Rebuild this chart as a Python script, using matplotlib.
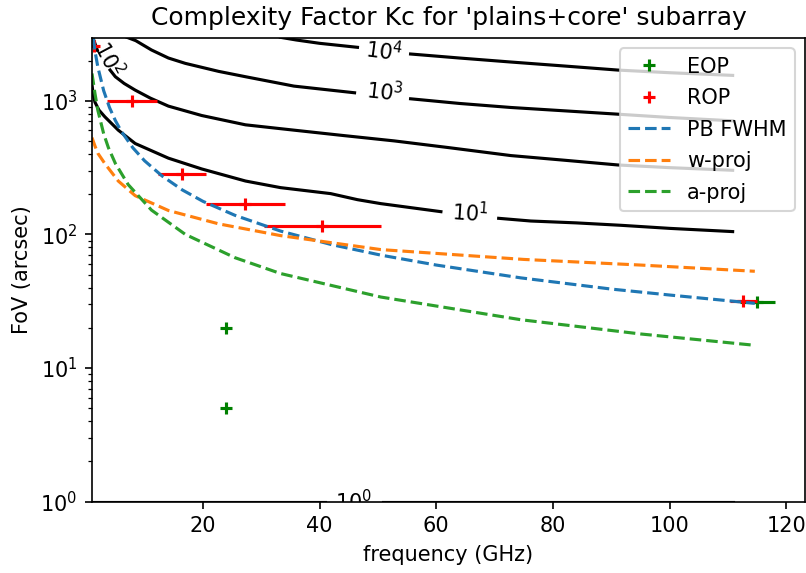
import numpy as np
import matplotlib
matplotlib.use("Agg")
import matplotlib.pyplot as plt

# ---------- Kc contour lines (freq GHz, FoV arcsec), split around the inline labels ----------
kc1_freq_a = [1.0, 41.0]
kc1_fov_a = [1.0, 1.0]
kc1_freq_b = [50.8, 110.8]
kc1_fov_b = [1.0, 1.0]

kc10_freq_a = [1.0, 1.2, 1.5, 2.2, 3.2, 5.5, 8.4, 14.1, 19.8, 27.3, 33.3, 41.9, 46.5, 50.5, 60.8]
kc10_fov_a = [1318, 1122, 977, 851, 759, 603, 479, 372, 309, 251, 224, 202, 182, 170, 148]
kc10_freq_b = [70.7, 76.2, 84.0, 91.7, 100.0, 110.8]
kc10_fov_b = [132, 126, 122, 117, 111, 105]

kc100_freq_a = [1.1, 1.9]
kc100_fov_a = [3020, 2399]
kc100_freq_b = [4.1, 5.0, 6.5, 8.4, 11.0, 14.1, 19.8, 27.3, 35.6, 44.0, 52.8, 62.0, 72.8, 82.0, 91.1, 100.0, 110.8]
kc100_fov_b = [1698, 1514, 1349, 1202, 1047, 912, 776, 661, 603, 550, 501, 447, 389, 359, 331, 316, 302]

kc1000_freq_a = [7.0, 8.5, 11.2, 14.1, 17.0, 22.7, 27.3, 35.6, 46.0]
kc1000_fov_a = [2985, 2818, 2399, 2089, 1905, 1660, 1514, 1288, 1148]
kc1000_freq_b = [55.6, 64.0, 72.8, 82.0, 91.1, 100.0, 110.8]
kc1000_fov_b = [1035, 955, 891, 841, 794, 750, 708]

kc10000_freq_a = [33.3, 36.0, 40.0, 46.5]
kc10000_fov_a = [2985, 2851, 2692, 2512]
kc10000_freq_b = [55.6, 64.0, 72.8, 82.0, 91.1, 100.0, 110.8]
kc10000_fov_b = [2239, 2089, 1950, 1820, 1698, 1622, 1549]

# label text, position (freq, FoV) and angle
kc_labels = [r'$10^{0}$', r'$10^{1}$', r'$10^{2}$', r'$10^{3}$', r'$10^{4}$']
kc_label_freq = [45.8, 65.8, 3.8, 51.1, 51.1]
kc_label_fov = [1.0, 145, 2061, 1159, 2335]
kc_label_rot = [0, -4, -62, -6.5, -7.5]

# ---------- observing programs ----------
eop_freq = [24.0, 24.0, 115.0]
eop_fov = [20, 5, 31]
eop_ferr = [0.0, 0.0, 3.0]

rop_freq = [1.3, 7.85, 16.4, 27.25, 40.5, 112.6]
rop_fov = [2550, 1000, 285, 170, 115, 32]
rop_ferr = [0.7, 4.35, 4.1, 6.75, 10.0, 2.3]

# ---------- reference curves ----------
pb_freq = [1.2, 1.5, 2.0, 3.0, 4.0, 5.0, 6.0, 8.0, 10.0, 13.0, 16.5, 20.0, 25.5, 33.3, 42.0, 50.5, 60.0, 74.5, 90.0, 100.0, 114.6]
pb_fov = [2950, 2370, 1790, 1190, 890, 712, 593, 445, 356, 274, 215, 177, 139, 106, 84, 70, 59, 47.3, 39, 35.2, 30.5]

wproj_freq = [1.0, 1.5, 2.0, 3.2, 5.5, 8.4, 14.1, 22.7, 33.3, 50.5, 75.0, 95.0, 114.6]
wproj_fov = [530, 460, 405, 339, 251, 195, 151, 120, 98, 77, 65, 59, 53]

aproj_freq = [1.0, 1.5, 2.0, 3.0, 3.8, 5.0, 7.2, 11.2, 17.0, 25.5, 33.3, 50.5, 74.5, 95.0, 114.6]
aproj_fov = [1600, 1140, 850, 567, 447, 340, 236, 152, 100, 67, 51, 34, 23, 18, 14.8]

# ---------- plot ----------
fig = plt.figure(figsize=(806 / 150, 573 / 150), dpi=150)
ax = fig.add_axes([92 / 806, 1 - 501.7 / 573, (805 - 92) / 806, (501.7 - 38) / 573])

segments = [
    (kc1_freq_a, kc1_fov_a), (kc1_freq_b, kc1_fov_b),
    (kc10_freq_a, kc10_fov_a), (kc10_freq_b, kc10_fov_b),
    (kc100_freq_a, kc100_fov_a), (kc100_freq_b, kc100_fov_b),
    (kc1000_freq_a, kc1000_fov_a), (kc1000_freq_b, kc1000_fov_b),
    (kc10000_freq_a, kc10000_fov_a), (kc10000_freq_b, kc10000_fov_b),
]
for fr, fv in segments:
    ax.plot(fr, fv, color='k', lw=1.5)

for txt, fr, fv, rot in zip(kc_labels, kc_label_freq, kc_label_fov, kc_label_rot):
    ax.text(fr, fv, txt, rotation=rot, rotation_mode='anchor', ha='center', va='center',
            fontsize=10, color='k', clip_on=True)

ax.errorbar(eop_freq, eop_fov, xerr=eop_ferr, fmt='none', ecolor='green', elinewidth=1.5)
ax.plot(eop_freq, eop_fov, '+', color='green', ms=6, mew=1.5, label='EOP')
ax.errorbar(rop_freq, rop_fov, xerr=rop_ferr, fmt='none', ecolor='red', elinewidth=1.5)
ax.plot(rop_freq, rop_fov, '+', color='red', ms=6, mew=1.5, label='ROP')

ax.plot(pb_freq, pb_fov, '--', color='C0', label='PB FWHM')
ax.plot(wproj_freq, wproj_fov, '--', color='C1', label='w-proj')
ax.plot(aproj_freq, aproj_fov, '--', color='C2', label='a-proj')

ax.set_yscale('log')
ax.set_xlim(1, 123.2)
ax.set_ylim(1, 2950)
ax.set_xlabel('frequency (GHz)')
ax.set_ylabel('FoV (arcsec)')
ax.set_title("Complexity Factor Kc for 'plains+core' subarray")
ax.legend(loc='upper right', labelspacing=0.55)

fig.savefig('out.png', dpi=150)
